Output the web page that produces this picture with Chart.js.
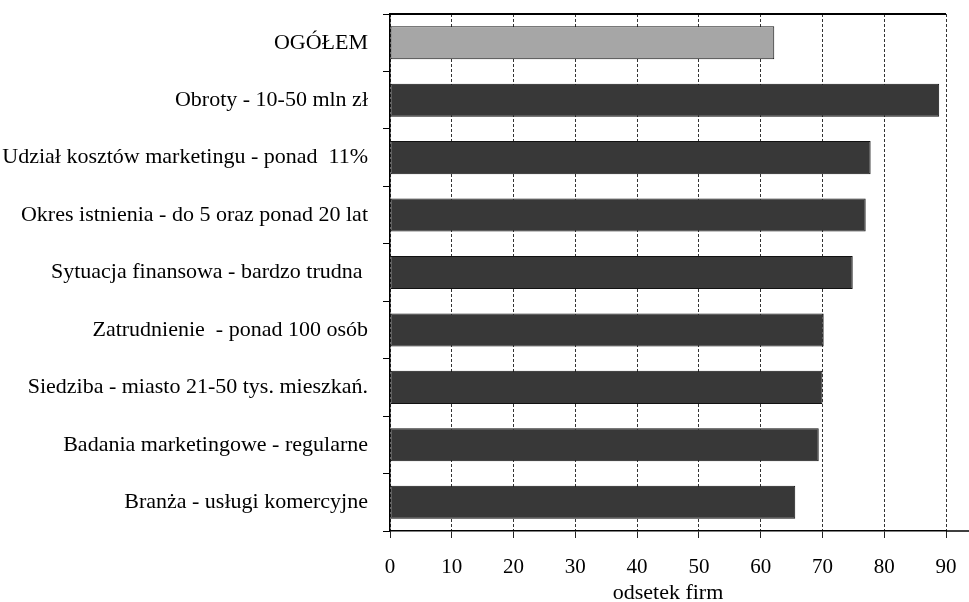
<!DOCTYPE html>
<html lang="pl">
<head>
<meta charset="utf-8">
<script src="https://cdn.jsdelivr.net/npm/chart.js@4.4.1/dist/chart.umd.min.js"></script>
<style>
    html, body { margin: 0; padding: 0; background: #fff; }
    #wrap { width: 969px; height: 602px; }
</style>
</head>
<body>
<div id="wrap"><canvas id="firmChart" width="969" height="602"></canvas></div>
<script>
// --- Data ---
const categories = [
    'OGÓŁEM',
    'Obroty - 10-50 mln zł',
    'Udział kosztów marketingu - ponad  11%',
    'Okres istnienia - do 5 oraz ponad 20 lat',
    'Sytuacja finansowa - bardzo trudna ',
    'Zatrudnienie  - ponad 100 osób',
    'Siedziba - miasto 21-50 tys. mieszkań.',
    'Badania marketingowe - regularne',
    'Branża - usługi komercyjne'
];
const shareOfFirms = [62.2, 88.9, 77.8, 77.0, 74.9, 70.2, 70.0, 69.4, 65.6];
const xTicks = [0, 10, 20, 30, 40, 50, 60, 70, 80, 90];

const serif = '"Liberation Serif", "Times New Roman", serif';

// top frame line plus the bottom axis running on to the right edge
const frameLines = {
    id: 'frameLines',
    afterDraw(chart) {
        const { ctx, chartArea } = chart;
        ctx.save();
        ctx.strokeStyle = '#000';
        ctx.lineWidth = 2;
        ctx.beginPath();
        ctx.moveTo(chartArea.left, chartArea.top);
        ctx.lineTo(chartArea.right, chartArea.top);
        ctx.stroke();
        ctx.lineWidth = 1.5;
        ctx.beginPath();
        ctx.moveTo(chartArea.right, chartArea.bottom);
        ctx.lineTo(chart.width, chartArea.bottom);
        ctx.stroke();
        ctx.restore();
    }
};

const canvas = document.getElementById('firmChart');
new Chart(canvas, {
    type: 'bar',
    data: {
        labels: categories,
        datasets: [{
            label: 'odsetek firm',
            data: shareOfFirms,
            backgroundColor: shareOfFirms.map((v, i) => i === 0 ? '#a6a6a6' : '#383838'),
            borderColor: '#111',
            borderWidth: 1,
            borderSkipped: false,
            barPercentage: 0.575,
            categoryPercentage: 1
        }]
    },
    options: {
        indexAxis: 'y',
        responsive: false,
        animation: false,
        layout: { padding: { top: 14, right: 23, bottom: 0, left: 0 } },
        plugins: {
            legend: { display: false },
            tooltip: { enabled: false }
        },
        scales: {
            x: {
                min: 0,
                max: 90,
                afterBuildTicks: (scale) => {
                    scale.ticks = xTicks.map(v => ({ value: v }));
                },
                afterFit: (scale) => {
                    scale.height = 71;
                    scale.paddingLeft = 0;
                    scale.paddingRight = 0;
                },
                grid: {
                    color: '#333',
                    lineWidth: 1,
                    tickLength: 7,
                    tickColor: '#222',
                    tickBorderDash: []
                },
                border: { display: true, color: '#000', width: 1.5, dash: [3, 2] },
                ticks: {
                    color: '#000',
                    padding: 17,
                    font: { family: serif, size: 21 }
                },
                title: {
                    display: true,
                    text: 'odsetek firm',
                    color: '#000',
                    padding: { top: 0, bottom: -4 },
                    font: { family: serif, size: 22 }
                }
            },
            y: {
                afterFit: (scale) => {
                    scale.width = 390;
                    scale.paddingTop = 0;
                    scale.paddingBottom = 0;
                },
                grid: {
                    drawOnChartArea: false,
                    offset: true,
                    tickLength: 7,
                    color: '#000'
                },
                border: { display: true, color: '#000', width: 1.5 },
                ticks: {
                    color: '#000',
                    padding: 15,
                    font: { family: serif, size: 22 }
                }
            }
        }
    },
    plugins: [frameLines]
});
</script>
</body>
</html>
